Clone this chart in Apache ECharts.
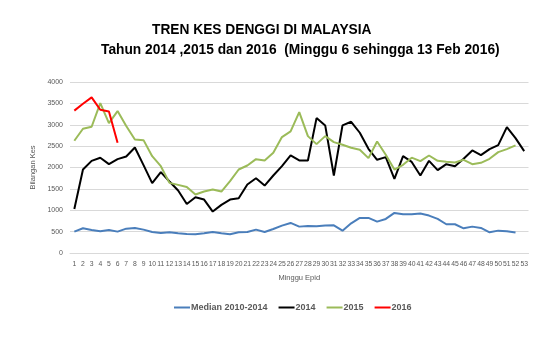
<!DOCTYPE html>
<html><head><meta charset="utf-8">
<script src="https://cdn.jsdelivr.net/npm/echarts@6/dist/echarts.min.js"></script>
<style>html,body{margin:0;padding:0;background:#fff}#c{width:558px;height:340px}</style>
</head><body><div id="c"></div>
<script>
const weeks = Array.from({length:53},(_,i)=>String(i+1));
const median = [500,578,539,508,539,500,570,586,547,492,469,484,461,445,438,461,492,461,438,484,492,547,492,562,641,703,617,633,625,641,648,523,695,820,820,734,797,938,906,906,922,875,797,672,672,578,617,586,484,523,508,477];
const y2014 = [1031,1953,2156,2227,2078,2195,2258,2469,2055,1633,1891,1672,1461,1145,1305,1250,969,1125,1250,1281,1602,1750,1578,1813,2031,2281,2164,2164,3156,2984,1813,2984,3070,2813,2438,2180,2242,1734,2266,2130,1813,2156,1938,2078,2031,2203,2398,2289,2430,2523,2945,2688,2383];
const y2015 = [2625,2906,2953,3508,3039,3320,2969,2656,2640,2265,2031,1640,1594,1543,1367,1437,1484,1437,1680,1953,2047,2195,2164,2344,2711,2844,3297,2734,2547,2734,2594,2531,2461,2414,2219,2609,2297,1953,2063,2230,2148,2281,2156,2133,2117,2180,2078,2109,2203,2359,2430,2516];
const y2016 = [3330,3490,3640,3350,3310,2580];
const yTicks = [0,500,1000,1500,2000,2500,3000,3500,4000];

const chart = echarts.init(document.getElementById('c'));
const ln = (name, data, color) => ({name, type:'line', data, symbol:'none', lineStyle:{color, width:2}, itemStyle:{color}});
chart.setOption({
  animation:false,
  title:[
    {text:'TREN KES DENGGI DI MALAYSIA', left:147, top:18, textStyle:{fontFamily:'Liberation Sans', fontSize:13.75, fontWeight:'bold', color:'#000'}},
    {text:'Tahun 2014 ,2015 dan 2016  (Minggu 6 sehingga 13 Feb 2016)', left:96, top:38, textStyle:{fontFamily:'Liberation Sans', fontSize:13.75, fontWeight:'bold', color:'#000'}}
  ],
  grid:{left:70, right:29.5, top:82, bottom:87},
  legend:{left:169, top:298, itemWidth:16, itemHeight:2, itemGap:11, icon:'rect',
    textStyle:{fontFamily:'Liberation Sans', fontSize:9, fontWeight:'bold', color:'#595959', padding:[0,0,0,-4]},
    data:['Median 2010-2014','2014','2015','2016']},
  xAxis:{type:'category', data:weeks, boundaryGap:true,
    name:'Minggu Epid', nameLocation:'middle', nameGap:21,
    nameTextStyle:{fontFamily:'Liberation Sans', fontSize:7.5, color:'#595959'},
    axisLine:{lineStyle:{color:'#d9d9d9'}}, axisTick:{show:false},
    axisLabel:{interval:0, hideOverlap:false, fontFamily:'Liberation Sans', fontSize:6.8, color:'#595959', margin:8}},
  yAxis:{type:'value', min:0, max:4000, interval:500,
    name:'Bilangan Kes', nameLocation:'middle', nameGap:29,
    nameTextStyle:{fontFamily:'Liberation Sans', fontSize:7.5, color:'#595959'},
    axisLine:{show:false}, axisTick:{show:false},
    splitLine:{lineStyle:{color:'#d9d9d9'}},
    axisLabel:{fontFamily:'Liberation Sans', fontSize:7, color:'#595959', margin:7,
      formatter:v=>yTicks.includes(v)?String(v):''}},
  series:[
    ln('Median 2010-2014', median, '#4a7ebb'),
    ln('2014', y2014, '#000000'),
    ln('2015', y2015, '#9bbb59'),
    ln('2016', y2016, '#ff0000')
  ]
});
</script></body></html>
